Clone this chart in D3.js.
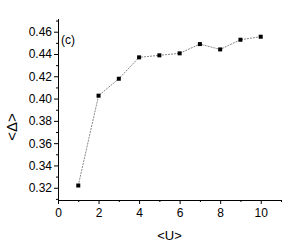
<!DOCTYPE html>
<html>
<head>
<meta charset="utf-8">
<script src="https://cdn.jsdelivr.net/npm/d3@7"></script>
<style>
  body { margin: 0; background: #fff; }
  text { font-family: "Liberation Sans", Arial, sans-serif; fill: #000; }
</style>
</head>
<body>
<svg width="289" height="242"></svg>
<script>
// data
var uValues = [1, 2, 3, 4, 5, 6, 7, 8, 9, 10];
var deltaValues = [0.322, 0.4026, 0.4178, 0.437, 0.4388, 0.4406, 0.4489, 0.4441, 0.4528, 0.4555];
var xTicks = [0, 2, 4, 6, 8, 10];
var yTicks = [0.32, 0.34, 0.36, 0.38, 0.40, 0.42, 0.44, 0.46];

var svg = d3.select('svg');

//plot area edges in pixels
var plot = {l: 58, r: 281, t: 19, b: 200};

var x = d3.scaleLinear().domain([0, 11]).range([plot.l, plot.r]);
var y = d3.scaleLinear().domain([0.309, 0.4714]).range([plot.b, plot.t]);

//minor ticks first, then major ones with labels
svg.append('g')
    .attr('transform', 'translate(0,' + plot.b + ')')
    .call(d3.axisBottom(x).tickValues([1, 3, 5, 7, 9, 11]).tickSize(2).tickFormat(''));
svg.append('g')
    .attr('transform', 'translate(0,' + plot.b + ')')
    .call(d3.axisBottom(x).tickValues(xTicks).tickSize(4).tickPadding(4).tickFormat(d3.format('d')));

svg.append('g')
    .attr('transform', 'translate(' + plot.l + ',0)')
    .call(d3.axisLeft(y).tickValues([0.31, 0.33, 0.35, 0.37, 0.39, 0.41, 0.43, 0.45, 0.47]).tickSize(2).tickFormat(''));
svg.append('g')
    .attr('transform', 'translate(' + plot.l + ',0)')
    .call(d3.axisLeft(y).tickValues(yTicks).tickSize(4).tickPadding(2).tickFormat(d3.format('.2f')));

svg.selectAll('.tick line').attr('stroke', '#000');
svg.selectAll('.tick text').style('font-size', '12px').attr('fill', '#000');

//axis lines end exactly at the plot edges
svg.selectAll('.domain').remove();
svg.append('line').attr('x1', plot.l).attr('x2', plot.r).attr('y1', plot.b + 0.5).attr('y2', plot.b + 0.5).attr('stroke', '#000');
svg.append('line').attr('x1', plot.l + 0.5).attr('x2', plot.l + 0.5).attr('y1', plot.t).attr('y2', plot.b).attr('stroke', '#000');

var pts = uValues.map(function(u, i) { return [u, deltaValues[i]]; });

svg.append('path')
    .datum(pts)
    .attr('fill', 'none')
    .attr('stroke', '#888')
    .attr('stroke-width', 1)
    .attr('stroke-dasharray', '2,1')
    .attr('d', d3.line().x(function(d) { return x(d[0]); }).y(function(d) { return y(d[1]); }));

svg.selectAll('rect.pt')
    .data(pts)
    .enter()
    .append('rect')
    .attr('class', 'pt')
    .attr('x', function(d) { return x(d[0]) - 2; })
    .attr('y', function(d) { return y(d[1]) - 2; })
    .attr('width', 4)
    .attr('height', 4)
    .attr('fill', '#000');

svg.append('text')
    .attr('x', 61)
    .attr('y', 44)
    .style('font-size', '12px')
    .text('(c)');

svg.append('text')
    .attr('x', (plot.l + plot.r) / 2)
    .attr('y', 240)
    .attr('text-anchor', 'middle')
    .style('font-size', '13px')
    .text('<U>');

svg.append('text')
    .attr('transform', 'translate(17,127) rotate(-90)')
    .attr('text-anchor', 'middle')
    .style('font-size', '15px')
    .text('<Δ>');
</script>
</body>
</html>
